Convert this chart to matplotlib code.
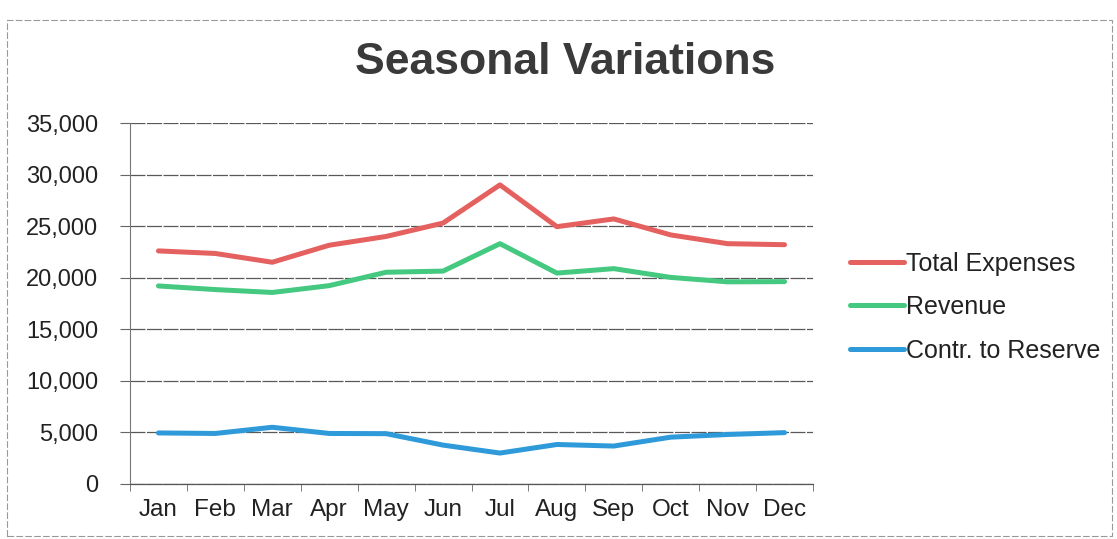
import matplotlib
matplotlib.use("Agg")
import matplotlib.pyplot as plt
from matplotlib.patches import Rectangle
import numpy as np

months = ["Jan", "Feb", "Mar", "Apr", "May", "Jun", "Jul", "Aug", "Sep", "Oct", "Nov", "Dec"]
total_expenses = [22600, 22350, 21500, 23150, 24000, 25300, 29000, 24950, 25700, 24150, 23300, 23200]
revenue = [19200, 18850, 18570, 19230, 20530, 20640, 23300, 20450, 20880, 20030, 19600, 19620]
contr_reserve = [4950, 4900, 5500, 4900, 4880, 3770, 3000, 3830, 3680, 4540, 4800, 4980]
series_names = ["Total Expenses", "Revenue", "Contr. to Reserve"]
y_ticks = [0, 5000, 10000, 15000, 20000, 25000, 30000, 35000]

plt.rcParams['font.family'] = ['Liberation Sans', 'DejaVu Sans']

W, H = 1117, 539
fig = plt.figure(figsize=(W / 100, H / 100), dpi=100)
fig.patch.set_facecolor('white')

ax = fig.add_axes([130 / W, 1 - 484 / H, (813 - 130) / W, (484 - 123) / H])

x = np.arange(len(months))
colors = ['#E4615F', '#45C880', '#2F9AD9']
for vals, name, c in zip([total_expenses, revenue, contr_reserve], series_names, colors):
    ax.plot(x, vals, color=c, lw=3.6, solid_capstyle='round', solid_joinstyle='round', label=name)

ax.set_xlim(-0.5, len(months) - 0.5)
ax.set_ylim(0, 35000)
ax.set_yticks(y_ticks)
ax.set_yticklabels([f"{v:,}" for v in y_ticks])
ax.set_xticks(x)
ax.set_xticklabels(months)
ax.set_xticks(np.arange(-0.5, len(months), 1), minor=True)
ax.tick_params(axis='x', which='major', length=0, labelsize=17.5, pad=11, colors='#222222')
ax.tick_params(axis='x', which='minor', length=5, direction='out', color='#666666')
ax.tick_params(axis='y', length=7, direction='out', labelsize=17, pad=16, color='#666666', labelcolor='#222222')

ax.grid(axis='y', color='#585858', lw=0.9, linestyle=(0, (12, 1.2)))
ax.set_axisbelow(True)
for s in ['top', 'right']:
    ax.spines[s].set_visible(False)
ax.spines['left'].set_color('#777777')
ax.spines['left'].set_linewidth(0.8)
ax.spines['bottom'].set_color('#555555')
ax.spines['bottom'].set_linewidth(0.9)

leg = ax.legend(loc='center left', bbox_to_anchor=(850 / W, 1 - 307 / H), bbox_transform=fig.transFigure,
                frameon=False, fontsize=18, handlelength=2.15, handletextpad=0.08, labelspacing=0.78,
                borderaxespad=0, borderpad=0)
for t in leg.get_texts():
    t.set_color('#222222')

fig.text(565 / W, 1 - 63 / H, "Seasonal Variations", ha='center', va='center',
         fontsize=32, fontweight='bold', color='#3a3a3a')

fig.patches.append(Rectangle((7 / W, 1 - 536 / H), (1112 - 7) / W, (536 - 20) / H,
                             transform=fig.transFigure, fill=False, edgecolor='#999999',
                             lw=0.8, linestyle=(0, (6, 2))))

fig.savefig("out.png", dpi=100, facecolor='white')
